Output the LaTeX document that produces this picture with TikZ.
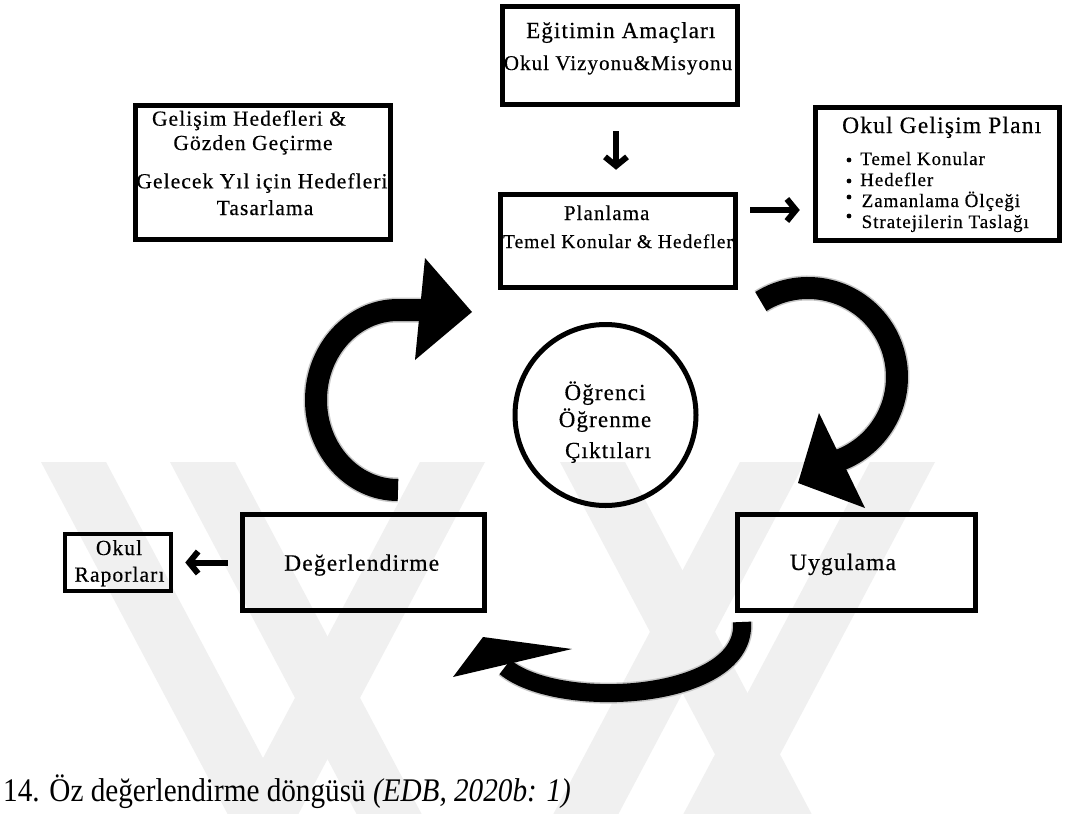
\documentclass[tikz,border=0pt]{standalone}
\usepackage{fontspec}
\setmainfont{Liberation Serif}
\newfontfamily\boxfont{Liberation Serif}[LetterSpace=5, FakeBold=0.4]
\newfontfamily\capfont{Liberation Serif}[FakeStretch=0.885]
\usetikzlibrary{arrows.meta}

\newcommand{\tsz}[1]{\fontsize{#1}{#1}\selectfont}
% faint diagonal bands of the background mark
\newcommand{\wmdown}[1]{\fill[wm] (#1,462) -- ++(65,0) -- ++(186.6,352) -- ++(-65,0) -- cycle;}
\newcommand{\wmup}[1]{\fill[wm] (#1,462) -- ++(65,0) -- ++(-186.6,352) -- ++(-65,0) -- cycle;}

\tikzset{
  wm/.style={fill=black!6},
  box/.style 2 args={draw, line width=5.5pt, inner sep=0pt, minimum width=#1, minimum height=#2},
  txt/.style={inner sep=0pt, anchor=base},
  arr/.style={line width=6pt, -{Straight Barb[length=9pt, width=22pt]}},
  curv/.style={line width=22pt},
  halo/.style={line width=25pt, black!22},
  head/.style={fill=black},
}

\begin{document}
\begin{tikzpicture}[x=1pt, y=-1pt]
\fill[white] (0,0) rectangle (1066,814);
\useasboundingbox (0,0) rectangle (1066,814);

% background mark
\wmdown{41}\wmdown{170}\wmdown{560}
\wmup{870}\wmup{740}\wmup{420}

% boxes
\node[box={235pt}{98pt}] (aim) at (620,55.5) {};
\node[box={255pt}{134pt}] (rev) at (263,172.5) {};
\node[box={244pt}{133pt}] (plan) at (937.5,174) {};
\node[box={235pt}{93pt}] (planning) at (618,241) {};
\node[draw, circle, line width=5pt, minimum size=181pt, inner sep=0pt] (out) at (605.5,415) {};
\node[box={242pt}{96pt}] (eval) at (363.5,562.5) {};
\node[box={238pt}{96pt}] (impl) at (856.5,562.5) {};
\node[draw, line width=4.5pt, inner sep=0pt, minimum width=106pt, minimum height=57pt] (rep) at (118,562.5) {};

% texts
\node[txt, font={\boxfont\tsz{23}}] (aimA) at (620.7,38) {Eğitimin Amaçları};
\node[txt, font={\boxfont\tsz{21}}] (aimB) at (618,70) {Okul Vizyonu\&Misyonu};

\node[txt, font={\boxfont\tsz{21.5}}] (revA) at (249,125.7) {Gelişim Hedefleri \&};
\node[txt, font={\boxfont\tsz{21.5}}] (revB) at (253,150) {Gözden Geçirme};
\node[txt, font={\boxfont\tsz{21.5}}] (revC) at (262,188.3) {Gelecek Yıl için Hedefleri};
\node[txt, font={\boxfont\tsz{21.5}}] (revD) at (265,215) {Tasarlama};

\node[txt, font={\boxfont\tsz{23.5}}] (planA) at (941.7,133) {Okul Gelişim Planı};
\node[txt, anchor=base west, font={\boxfont\tsz{19}}] (planB) at (860,165) {Temel Konular};
\node[txt, anchor=base west, font={\boxfont\tsz{19}}] (planC) at (860,186) {Hedefler};
\node[txt, anchor=base west, font={\boxfont\tsz{19}}] (planD) at (861.5,207) {Zamanlama Ölçeği};
\node[txt, anchor=base west, font={\boxfont\tsz{19}}] (planE) at (861.5,228) {Stratejilerin Taslağı};
\fill (849,160) circle[radius=2.4pt];
\fill (849,181) circle[radius=2.4pt];
\fill (849,197) circle[radius=2.4pt];
\fill (849,216) circle[radius=2.4pt];

\node[txt, font={\boxfont\tsz{21}}] (planningA) at (606.7,220) {Planlama};
\node[txt, font={\boxfont\tsz{19.5}}] (planningB) at (618,248) {Temel Konular \& Hedefler};

\node[txt, font={\boxfont\tsz{23}}] (outA) at (605,400) {Öğrenci};
\node[txt, font={\boxfont\tsz{23}}] (outB) at (605,427) {Öğrenme};
\node[txt, font={\boxfont\tsz{23}}] (outC) at (608,458) {Çıktıları};

\node[txt, font={\boxfont\tsz{23.5}}] (evalA) at (361.7,570.7) {Değerlendirme};
\node[txt, font={\boxfont\tsz{23.5}}] (implA) at (843,570) {Uygulama};
\node[txt, font={\boxfont\tsz{21.5}}] (repA) at (119,555) {Okul};
\node[txt, font={\boxfont\tsz{21.5}}] (repB) at (119.5,581.7) {Raporları};

% straight connectors
\draw[arr, shorten <=24pt, shorten >=22pt] ([xshift=-4pt]aim.south) -- ([xshift=-2pt]planning.north);
\draw[arr, shorten <=12pt, shorten >=13pt] ([yshift=31pt]planning.east) -- ([yshift=-36pt]plan.west);
\draw[arr, shorten <=12pt, shorten >=12pt] (eval.west) -- (rep.east);

% cycle arrows: evaluation -> planning
\draw[halo] (398,490) arc[start angle=270, end angle=90, x radius=82pt, y radius=90pt] -- (421,310);
\draw[curv] (398,490) arc[start angle=270, end angle=90, x radius=82pt, y radius=90pt] -- (421,310);
\fill[head] (425,258) -- (472,312) -- (415,360) -- cycle;

% planning -> implementation
\draw[halo] (808,377) ++(122:89pt) arc[start angle=122, end angle=-70, radius=89pt];
\draw[curv] (808,377) ++(122:89pt) arc[start angle=122, end angle=-70, radius=89pt];
\fill[head] (819,413) -- (865,508) -- (798,483) -- cycle;

% implementation -> evaluation
\draw[halo, line width=21pt] (742,622) .. controls (748,700) and (560,712) .. (505,667);
\draw[curv, line width=18pt] (742,622) .. controls (748,700) and (560,712) .. (505,667);
\fill[head] (483,637) -- (572,649) -- (453,677) -- cycle;

% caption
\node[txt, anchor=base west, font={\capfont\tsz{33}}] (cap) at (3,801) {14. Öz değerlendirme döngüsü \textit{(EDB, 2020b: 1)}};
\end{tikzpicture}
\end{document}
